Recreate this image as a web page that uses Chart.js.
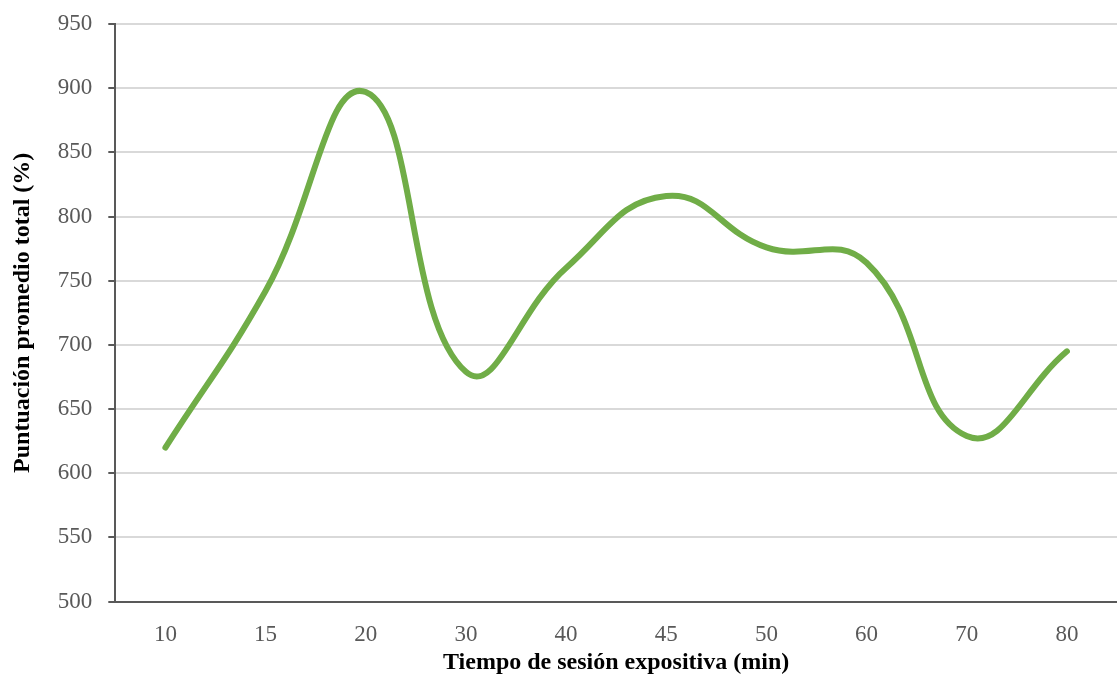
<!DOCTYPE html>
<html>
<head>
<meta charset="utf-8">
<script src="https://cdn.jsdelivr.net/npm/chart.js@4/dist/chart.umd.min.js"></script>
<style>
  html, body { margin: 0; padding: 0; background: #fff; }
  #wrap { width: 1117px; height: 677px; }
</style>
</head>
<body>
<div id="wrap"><canvas id="lineGraph"></canvas></div>
<script>
//data
const sessionLabels = ['10', '15', '20', '30', '40', '45', '50', '60', '70', '80'];
const scoreValues = [620, 742, 897, 679, 760, 816, 776, 764, 629, 695];
const yTicks = [500, 950, 50];

const serif = "'Liberation Serif', 'Times New Roman', serif";

//line graph
const lineGraphGenerator = () => {
    var ctx = document.getElementById('lineGraph').getContext('2d');
    var chart = new Chart(ctx, {
        type: 'line',
        data: {
            labels: sessionLabels,
            datasets: [{
                label: 'Puntuación',
                borderColor: '#70AD47',
                borderWidth: 6,
                borderCapStyle: 'round',
                borderJoinStyle: 'round',
                pointRadius: 0,
                tension: 0.45,
                data: scoreValues
            }]
        },
        options: {
            responsive: true,
            maintainAspectRatio: false,
            animation: false,
            plugins: {
                legend: { display: false },
                tooltip: { enabled: false }
            },
            layout: {
                padding: { left: 8, right: 0, top: 12, bottom: 0 }
            },
            scales: {
                x: {
                    offset: true,
                    grid: { display: false, drawTicks: false },
                    border: { color: '#595959', width: 2 },
                    ticks: {
                        color: '#595959',
                        padding: 20,
                        font: { family: serif, size: 23 }
                    },
                    title: {
                        display: true,
                        text: 'Tiempo de sesión expositiva (min)',
                        color: '#000',
                        padding: { top: -21, bottom: 0 },
                        font: { family: serif, size: 24, weight: 'bold' }
                    }
                },
                y: {
                    min: yTicks[0],
                    max: yTicks[1],
                    grid: {
                        color: '#d9d9d9',
                        lineWidth: 2,
                        tickLength: 7,
                        tickColor: '#595959',
                        tickWidth: 2
                    },
                    border: { color: '#595959', width: 2 },
                    ticks: {
                        stepSize: yTicks[2],
                        color: '#595959',
                        padding: 16,
                        font: { family: serif, size: 23, lineHeight: 0.7 }
                    },
                    title: {
                        display: true,
                        text: 'Puntuación promedio total (%)',
                        color: '#000',
                        padding: { top: 0, bottom: 5 },
                        font: { family: serif, size: 24, weight: 'bold' }
                    }
                }
            }
        }
    });
};
lineGraphGenerator()
</script>
</body>
</html>
